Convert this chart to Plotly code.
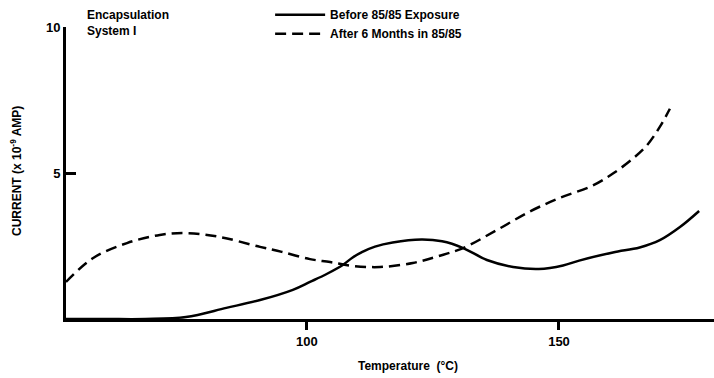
import plotly.graph_objects as go

# Data
temp_before = [52.2, 60, 68, 76, 84, 90.7, 97.2, 100.6, 104, 107.1, 109, 111, 113.5, 117,
               122.7, 126.8, 131, 135.7, 140.9, 146, 150.8, 154, 160.7, 166, 170, 174, 177.8]
cur_before = [0, 0, 0, 0.07, 0.38, 0.65, 1.0, 1.27, 1.55, 1.85, 2.1, 2.3, 2.48, 2.62,
              2.72, 2.66, 2.43, 2.02, 1.78, 1.71, 1.83, 2.0, 2.28, 2.45, 2.7, 3.15, 3.7]

temp_after = [52.2, 57.6, 64.3, 70.8, 76.2, 82.7, 90.7, 95, 100.6, 104.6, 109, 114.5,
              121, 126, 131, 137.7, 144.2, 150.2, 156.7, 160.7, 164.7, 167.5, 170, 172]
cur_after = [1.27, 2.09, 2.6, 2.88, 2.94, 2.81, 2.47, 2.3, 2.05, 1.95, 1.82, 1.78,
             1.92, 2.15, 2.43, 3.05, 3.68, 4.15, 4.57, 4.98, 5.5, 5.96, 6.58, 7.2]

x_ticks = [100, 150]
x_ticklabels = ["100", "150"]
y_ticks = [5, 10]
y_ticklabels = ["5", "10"]

FONT = "Liberation Sans"

fig = go.Figure()
fig.add_trace(go.Scatter(
    x=temp_before, y=cur_before, mode="lines", name="Before 85/85 Exposure",
    line=dict(color="black", width=2.5, shape="spline", smoothing=1.0),
    cliponaxis=False))
fig.add_trace(go.Scatter(
    x=temp_after, y=cur_after, mode="lines", name="After 6 Months in 85/85",
    line=dict(color="black", width=2.5, dash="11px,6px", shape="spline", smoothing=1.0),
    cliponaxis=False))

fig.update_layout(
    width=714, height=378,
    margin=dict(l=66, r=0, t=27, b=59, autoexpand=False),
    plot_bgcolor="white", paper_bgcolor="white",
    font=dict(family=FONT, color="black", size=12, weight="bold"),
    showlegend=True,
    legend=dict(
        x=0.315, y=1.092, xanchor="left", yanchor="top",
        bgcolor="rgba(0,0,0,0)", itemwidth=50,
        font=dict(family=FONT, size=12, color="black", weight="bold"),
        tracegroupgap=0,
    ),
    xaxis=dict(
        range=[52.2, 180.75], showgrid=False, zeroline=False,
        showline=True, linecolor="black", linewidth=3,
        ticks="outside", ticklen=8, tickwidth=2.5, tickcolor="black",
        tickvals=x_ticks, ticktext=x_ticklabels,
        tickfont=dict(family=FONT, size=13, color="black", weight="bold"),
    ),
    yaxis=dict(
        range=[0, 10], showgrid=False, zeroline=False,
        showline=True, linecolor="black", linewidth=3,
        ticks="inside", ticklen=10, tickwidth=2.5, tickcolor="black",
        tickvals=y_ticks, ticktext=y_ticklabels,
        tickfont=dict(family=FONT, size=13, color="black", weight="bold"),
    ),
    annotations=[
        dict(text="Encapsulation<br>System I", xref="paper", yref="paper",
             x=(85 - 66) / 648, y=(319 - 6) / 292, xanchor="left", yanchor="top",
             align="left", showarrow=False,
             font=dict(family=FONT, size=12, color="black", weight="bold")),
        dict(text="CURRENT (x 10<sup>-9</sup> AMP)", xref="paper", yref="paper",
             x=(16 - 66) / 648, y=(319 - 171) / 292, xanchor="center", yanchor="middle",
             textangle=-90, showarrow=False,
             font=dict(family=FONT, size=12, color="black", weight="bold")),
        dict(text="Temperature  (°C)", xref="paper", yref="paper",
             x=(408 - 66) / 648, y=(319 - 366) / 292, xanchor="center", yanchor="middle",
             showarrow=False,
             font=dict(family=FONT, size=12, color="black", weight="bold")),
    ],
)

fig.write_html("out.html")
